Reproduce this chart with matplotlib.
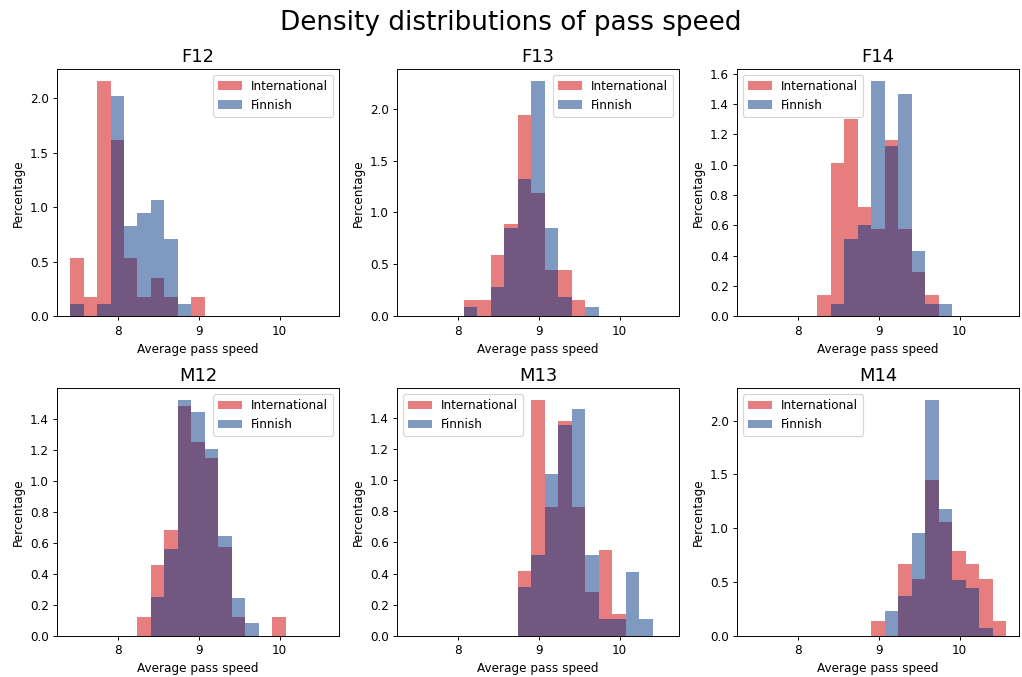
import numpy as np
import matplotlib
matplotlib.use("Agg")
from matplotlib import pyplot as plt

# common bin edges (19 bins) shared by all panels
bin_edges = np.linspace(7.41, 10.575, 20)
bin_centers = (bin_edges[:-1] + bin_edges[1:]) / 2

groups = ["F12", "F13", "F14", "M12", "M13", "M14"]
x_ticks = [8, 9, 10]

# density per bin (bins 0..18)
intl_f12 = [0.535, 0.18, 2.16, 1.615, 0.535, 0.18, 0.355, 0.18, 0, 0.18, 0, 0, 0, 0, 0, 0, 0, 0, 0]
fin_f12 = [0.116, 0, 0.116, 2.02, 0.83, 0.945, 1.064, 0.71, 0.116, 0, 0, 0, 0, 0, 0, 0, 0, 0, 0]

intl_f13 = [0, 0, 0, 0, 0.154, 0.154, 0.596, 0.894, 1.936, 1.192, 0.449, 0.449, 0.154, 0, 0, 0, 0, 0, 0]
fin_f13 = [0, 0, 0, 0, 0.09, 0, 0.282, 0.853, 1.324, 2.266, 0.853, 0.189, 0, 0.09, 0, 0, 0, 0, 0]

intl_f14 = [0, 0, 0, 0, 0, 0.141, 1.011, 1.303, 0.723, 0.578, 1.16, 0.578, 0.29, 0.141, 0, 0, 0, 0, 0]
fin_f14 = [0, 0, 0, 0, 0, 0, 0.084, 0.512, 0.6, 1.552, 1.121, 1.466, 0.429, 0.084, 0.084, 0, 0, 0, 0]

intl_m12 = [0, 0, 0, 0, 0, 0.118, 0.458, 0.684, 1.484, 1.254, 1.146, 0.574, 0.118, 0, 0, 0.118, 0, 0, 0]
fin_m12 = [0, 0, 0, 0, 0, 0, 0.247, 0.559, 1.523, 1.443, 1.206, 0.647, 0.245, 0.084, 0, 0, 0, 0, 0]

intl_m13 = [0, 0, 0, 0, 0, 0, 0, 0, 0.415, 1.516, 0.829, 1.381, 0.829, 0.281, 0.552, 0.137, 0, 0, 0]
fin_m13 = [0, 0, 0, 0, 0, 0, 0, 0, 0.315, 0.522, 1.043, 1.355, 1.458, 0.52, 0.107, 0.107, 0.413, 0.107, 0]

intl_m14 = [0, 0, 0, 0, 0, 0, 0, 0, 0, 0.14, 0, 0.667, 0.527, 1.451, 1.057, 0.791, 0.667, 0.527, 0.14]
fin_m14 = [0, 0, 0, 0, 0, 0, 0, 0, 0, 0, 0.226, 0.369, 0.952, 2.192, 1.178, 0.515, 0.443, 0.074, 0]

international = [intl_f12, intl_f13, intl_f14, intl_m12, intl_m13, intl_m14]
finnish = [fin_f12, fin_f13, fin_f14, fin_m12, fin_m13, fin_m14]
legend_loc = ["upper right", "upper right", "upper left", "upper right", "upper left", "upper left"]

fig, axes = plt.subplots(2, 3, figsize=(1022 / 86, 677 / 86), dpi=86, sharex=True)
fig.subplots_adjust(left=0.056, right=0.997, top=0.898, bottom=0.061, wspace=0.206, hspace=0.29)

for ax, name, intl, fin, loc in zip(axes.flat, groups, international, finnish, legend_loc):
    ax.hist(bin_centers, bins=bin_edges, weights=intl, color="#d62728", alpha=0.6, label="International")
    ax.hist(bin_centers, bins=bin_edges, weights=fin, color="#003485", alpha=0.5, label="Finnish")
    ax.set_title(name, fontsize=15)
    ax.set_xlabel("Average pass speed")
    ax.set_ylabel("Percentage")
    ax.set_xticks(x_ticks)
    ax.xaxis.set_tick_params(labelbottom=True)
    ax.legend(loc=loc)

fig.suptitle("Density distributions of pass speed", fontsize=22, y=0.985)
plt.savefig("out.png")
